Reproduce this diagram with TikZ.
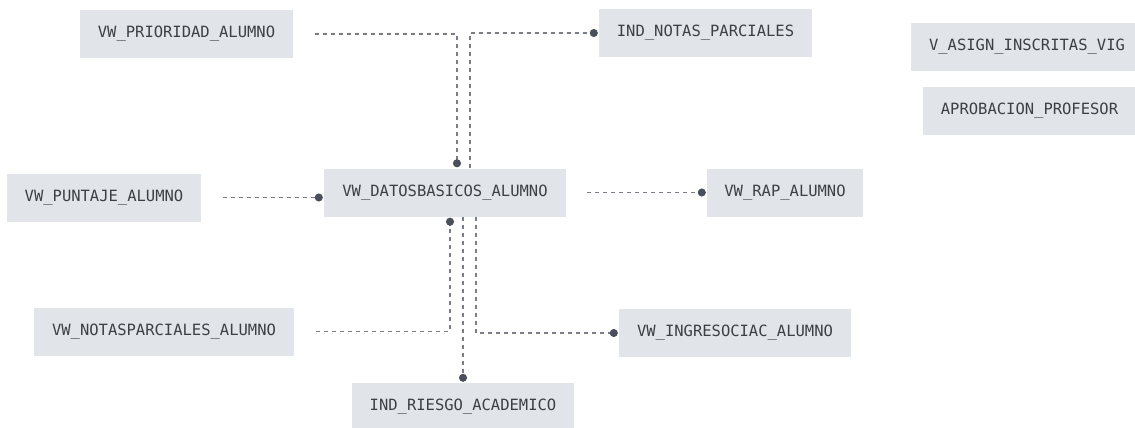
\documentclass[tikz,border=0pt]{standalone}
\usepackage{fontspec}
\newfontfamily\tblfont{DejaVu Sans Mono}
\usetikzlibrary{arrows.meta}
\definecolor{boxfill}{HTML}{E1E4E8}
\definecolor{boxtext}{HTML}{3C3F44}
\definecolor{linkgray}{HTML}{7A7D85}
\definecolor{dotgray}{HTML}{4B4F5B}

\begin{document}
\begin{tikzpicture}[x=1pt,y=-1pt,
  tbl/.style={fill=boxfill,text=boxtext,font=\tblfont\fontsize{15.5}{18}\selectfont,minimum height=48pt,inner sep=0pt},
  link/.style={linkgray,line width=1.2pt,dash pattern=on 4pt off 4pt,-{Circle[length=8pt,color=dotgray]}}]
              \useasboundingbox (0,0) rectangle (1135,428);
              \node[tbl,minimum width=213pt] (prio) at (186.5,34) {VW\_PRIORIDAD\_ALUMNO};
              \node[tbl,minimum width=213pt] (notas) at (705.5,33) {IND\_NOTAS\_PARCIALES};
              \node[tbl,minimum width=232pt] (asign) at (1027,47) {V\_ASIGN\_INSCRITAS\_VIG};
              \node[tbl,minimum width=213pt] (aprob) at (1029.5,111) {APROBACION\_PROFESOR};
              \node[tbl,minimum width=194pt] (puntaje) at (104,197.5) {VW\_PUNTAJE\_ALUMNO};
              \node[tbl,minimum width=242pt] (datos) at (445,192.5) {VW\_DATOSBASICOS\_ALUMNO};
              \node[tbl,minimum width=156pt] (rap) at (785,192.5) {VW\_RAP\_ALUMNO};
              \node[tbl,minimum width=260pt] (notaspar) at (164,331.5) {VW\_NOTASPARCIALES\_ALUMNO};
              \node[tbl,minimum width=232pt] (ingreso) at (735,333) {VW\_INGRESOCIAC\_ALUMNO};
              \node[tbl,minimum width=222pt] (riesgo) at (463,407) {IND\_RIESGO\_ACADEMICO};
              \draw[link] ([xshift=22pt]prio.east) -| ([shift={(12,-1)}]datos.north);
              \draw[link] ([xshift=25pt]datos.north) |- ([xshift=-1pt]notas.west);
              \draw[link] ([xshift=22pt]puntaje.east) -- ([xshift=-1pt]datos.west |- puntaje.east);
              \draw[link] ([xshift=21pt]datos.east) -- ([xshift=-1pt]rap.west);
              \draw[link] ([xshift=22pt]notaspar.east) -| ([shift={(5,1)}]datos.south);
              \draw[link] (riesgo.north |- datos.south) -- ([yshift=1pt]riesgo.north);
              \draw[link] ([xshift=31pt]datos.south) |- ([xshift=-1pt]ingreso.west);
            \end{tikzpicture}
\end{document}
